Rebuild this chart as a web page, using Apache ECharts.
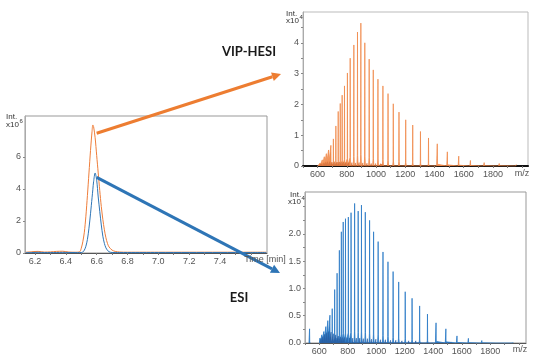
<!DOCTYPE html>
<html><head><meta charset="utf-8">
<script src="https://cdn.jsdelivr.net/npm/echarts@6/dist/echarts.min.js"></script>
<style>html,body{margin:0;padding:0;background:#fff}#c{width:540px;height:360px}</style>
</head><body><div id="c"></div>
<script>
// ---- Chromatogram (TIC) ----
const timeVals = [6.14,6.18,6.22,6.26,6.30,6.34,6.38,6.42,6.46,6.49,6.50,6.51,6.52,6.53,6.54,6.55,6.56,6.57,6.575,6.58,6.59,6.60,6.61,6.62,6.63,6.64,6.65,6.66,6.67,6.68,6.70,6.72,6.75,6.80,6.90,7.00,7.20,7.40,7.60,7.70];
const hesiTic  = [0.05,0.08,0.10,0.06,0.07,0.10,0.11,0.06,0.05,0.08,0.30,0.70,1.30,2.30,3.60,5.00,6.40,7.60,8.00,7.90,7.20,6.10,5.00,3.90,2.90,2.10,1.45,0.95,0.60,0.38,0.18,0.10,0.06,0.05,0.05,0.05,0.05,0.05,0.05,0.05];
const esiTic   = [0.03,0.03,0.04,0.03,0.03,0.03,0.04,0.03,0.03,0.03,0.03,0.06,0.18,0.42,0.85,1.55,2.45,3.45,3.95,4.45,5.00,4.55,3.50,2.60,1.75,1.05,0.60,0.32,0.17,0.08,0.03,0.03,0.03,0.03,0.03,0.03,0.03,0.03,0.03,0.03];
const timeLabels = [6.2,6.4,6.6,6.8,7.0,7.2,7.4];
const timeTicks = [6.2,6.3,6.4,6.5,6.6,6.7,6.8,6.9,7.0,7.1,7.2,7.3,7.4,7.5,7.6];
const ticYLabels = [0,2,4,6];

// ---- Mass spectra ----
const peakMz    = [605,618,632,646,660,675,691,708,725,741,755,768,784,804,823,848,873,896,923,953,981,1013,1047,1082,1118,1157,1203,1251,1304,1359,1419,1488,1566,1646,1740,1843,1960];
const hesiPeaks = [0.05,0.10,0.20,0.30,0.40,0.52,0.67,0.88,1.30,1.77,2.03,2.30,2.60,3.02,3.50,3.93,4.35,4.64,4.00,3.47,3.12,2.82,2.60,2.35,2.02,1.75,1.50,1.33,1.12,0.91,0.72,0.46,0.32,0.18,0.11,0.08,0.05];
const esiPeaks  = [0.09,0.15,0.21,0.30,0.41,0.51,0.63,0.98,1.28,1.70,2.04,2.22,2.28,2.31,2.39,2.56,2.42,2.53,2.40,2.25,2.04,1.86,1.67,1.49,1.31,1.12,0.94,0.82,0.68,0.53,0.37,0.26,0.13,0.085,0.045,0.025,0.015];
const minorMz   = [612,625,639,653,667,683,699,716,733,748,761,776,794,813,835,860,884,909,938,967,997,1030,1064,1100,1137,1180,1227,1277,1331,1389,1453,1527];
const hesiMinor = [0.04,0.07,0.09,0.11,0.13,0.14,0.13,0.14,0.13,0.13,0.12,0.13,0.12,0.11,0.11,0.10,0.11,0.10,0.09,0.08,0.08,0.07,0.06,0.05,0.05,0.05,0.04,0.04,0.03,0.03,0.02,0.02];
const esiMinor  = [0.08,0.12,0.16,0.19,0.21,0.20,0.17,0.15,0.13,0.11,0.10,0.10,0.10,0.09,0.09,0.09,0.09,0.08,0.08,0.07,0.07,0.06,0.06,0.05,0.05,0.04,0.04,0.04,0.03,0.03,0.02,0.02];
const esiExtraMz = [532];
const esiExtra   = [0.26];
const mzLabels = [600,800,1000,1200,1400,1600,1800];
const mzTicks = [500,600,700,800,900,1000,1100,1200,1300,1400,1500,1600,1700,1800,1900,2000];
const hesiYLabels = [0,1,2,3,4];
const hesiYTicks = [0,0.5,1,1.5,2,2.5,3,3.5,4,4.5];
const esiYLabels = [0,0.5,1,1.5,2];
const esiYTicks = [0,0.25,0.5,0.75,1,1.25,1.5,1.75,2,2.25,2.5];

const ORANGE = '#EE7D3A', BLUE = '#2E75B6';

function sticks(mzs, hs, w) {
  const out = [];
  mzs.forEach((m, i) => {
    out.push([m - w, 0], [m - w * 0.3, hs[i] * 0.08], [m, hs[i]], [m + w * 0.3, hs[i] * 0.08], [m + w, 0]);
  });
  return out;
}
const FONT = 'Liberation Sans';
function xAx(grid, min, max, labels, ticks, fmt) {
  return {type:'value', gridIndex:grid, min:min, max:max, splitLine:{show:false},
    axisLine:{show:true, onZero:false, lineStyle:{color:'#555', width:1}},
    axisTick:{show:true, customValues:ticks, length:2, lineStyle:{color:'#777'}},
    axisLabel:{customValues:labels, fontSize:9, color:'#555', fontFamily:FONT, margin:4, formatter:fmt}};
}
function yAx(grid, min, max, labels, ticks, fmt) {
  return {type:'value', gridIndex:grid, min:min, max:max, splitLine:{show:false},
    axisLine:{show:true, lineStyle:{color:'#aaa', width:1}},
    axisTick:{show:true, customValues:ticks, length:2, lineStyle:{color:'#888'}},
    axisLabel:{customValues:labels, fontSize:9, color:'#555', fontFamily:FONT, margin:4, formatter:fmt}};
}
function lineSeries(data, xi, color, width, area, z, smooth) {
  return {type:'line', xAxisIndex:xi, yAxisIndex:xi, data:data, showSymbol:false, smooth:smooth||false,
    lineStyle:{color:color, width:width}, itemStyle:{color:color},
    areaStyle: area ? {color:color, opacity:1} : undefined, z:z, silent:true};
}

const chart = echarts.init(document.getElementById('c'), null, {renderer:'canvas'});
chart.setOption({
  animation:false,
  grid:[
    {left:25, top:116, width:242, height:137, show:true, borderColor:'#999', borderWidth:1},
    {left:303, top:12, width:225, height:154, show:true, borderColor:'#bbb', borderWidth:1},
    {left:305, top:192, width:221, height:151, show:true, borderColor:'#999', borderWidth:1}
  ],
  xAxis:[
    xAx(0, 6.135, 7.705, timeLabels, timeTicks, v => v.toFixed(1)),
    xAx(1, 500, 2040, mzLabels, mzTicks, v => String(v)),
    xAx(2, 500, 2050, mzLabels, mzTicks, v => String(v)),
    {type:'value', gridIndex:1, position:'top', min:0, max:1, axisLine:{show:true, lineStyle:{color:'#111', width:2}},
      axisTick:{show:false}, axisLabel:{show:false}, splitLine:{show:false}}
  ],
  yAxis:[
    yAx(0, 0, 8.56, ticYLabels, ticYLabels, v => String(v)),
    yAx(1, 0, 5.0, hesiYLabels, hesiYTicks, v => String(v)),
    yAx(2, 0, 2.77, esiYLabels, esiYTicks, v => v.toFixed(1))
  ],
  series:[
    lineSeries(timeVals.map((t,i)=>[t, hesiTic[i]]), 0, ORANGE, 1, false, 3, 0.3),
    lineSeries(timeVals.map((t,i)=>[t, esiTic[i]]), 0, BLUE, 1, false, 4, 0.3),
    lineSeries(sticks(peakMz, hesiPeaks, 4), 1, '#F08C4E', 0.8, true, 3),
    lineSeries(sticks(minorMz, hesiMinor, 6), 1, '#D7753F', 0.6, true, 4),
    lineSeries(sticks(peakMz, esiPeaks, 4), 2, '#2C7BC6', 0.8, true, 3),
    lineSeries(sticks(minorMz, esiMinor, 6), 2, '#2A62A6', 0.6, true, 4),
    lineSeries(sticks(esiExtraMz, esiExtra, 4), 2, '#2C7BC6', 0.8, true, 3)
  ]
});

function arrow(p1, p2, color) {
  const dx = p2[0]-p1[0], dy = p2[1]-p1[1], L = Math.hypot(dx, dy), ux = dx/L, uy = dy/L;
  const hl = 9, hw = 4.5;
  const bx = p2[0]-ux*hl, by = p2[1]-uy*hl;
  return [
    {type:'line', shape:{x1:p1[0], y1:p1[1], x2:bx, y2:by}, style:{stroke:color, lineWidth:3}, z:100},
    {type:'polygon', shape:{points:[[p2[0],p2[1]],[bx-uy*hw, by+ux*hw],[bx+uy*hw, by-ux*hw]]}, style:{fill:color}, z:100}
  ];
}
const oStart = chart.convertToPixel({xAxisIndex:0, yAxisIndex:0}, [6.60, 7.48]);
const bStart = chart.convertToPixel({xAxisIndex:0, yAxisIndex:0}, [6.60, 4.73]);
function txt(x, y, s, size, opts) {
  return Object.assign({type:'text', x:x, y:y, z:110, style:Object.assign({text:s, fontSize:size, fill:'#333', fontFamily:FONT, textVerticalAlign:'middle'}, opts||{})});
}
chart.setOption({graphic:[].concat(
  arrow(oStart, [281, 74], '#ED7D31'),
  arrow(bStart, [280, 273], BLUE),
  [
    txt(249, 52, 'VIP-HESI', 13, {fontWeight:'bold', fontFamily:'Lato', fill:'#1a1a1a', textAlign:'center'}),
    txt(239, 298, 'ESI', 13, {fontWeight:'bold', fontFamily:'Lato', fill:'#1a1a1a', textAlign:'center'}),
    txt(6, 117, 'Int.', 8), txt(6, 125, 'x10', 8), txt(19.5, 121.5, '6', 6),
    txt(286, 14, 'Int.', 8), txt(286, 21, 'x10', 8), txt(299.5, 17.5, '4', 6),
    txt(290, 195, 'Int.', 8), txt(288, 202, 'x10', 8), txt(301.5, 198.5, '4', 6),
    txt(265, 260, 'Time [min]', 9, {textAlign:'center', fill:'#555'}),
    txt(522, 174, 'm/z', 9, {textAlign:'center', fill:'#555'}),
    txt(520, 350, 'm/z', 9, {textAlign:'center', fill:'#555'})
  ]
)});
</script>
</body></html>
